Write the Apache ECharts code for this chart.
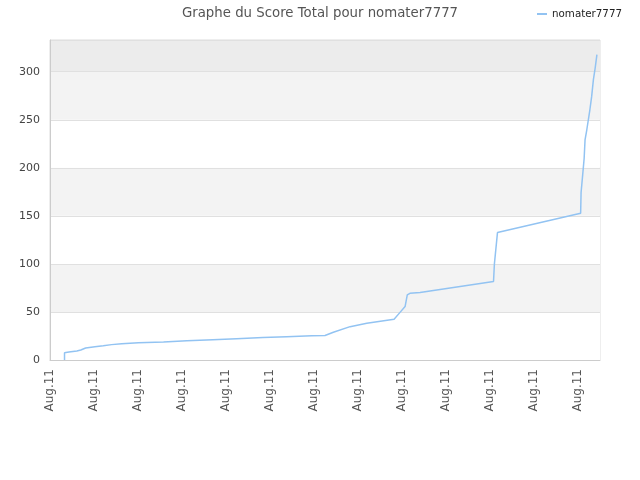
<!DOCTYPE html>
<html>
<head>
<meta charset="utf-8">
<script src="https://cdn.jsdelivr.net/npm/echarts@6/dist/echarts.min.js"></script>
<style>
html, body { margin: 0; padding: 0; background: #fff; }
#main { width: 640px; height: 480px; }
</style>
</head>
<body>
<div id="main"></div>
<script>
// position along the x axis (one "Aug.11" label every 10 steps)
var steps = [3.3, 3.3, 4.3, 6.1, 7.0, 7.2, 8.1, 10.2, 12.1, 14.0, 16.3, 20.1, 25.8, 31.1, 37.0, 42.4,
	48.4, 53.8, 59.5, 62.5, 64.4, 68.2, 72.0, 78.2, 79.5, 80.7, 81.2, 81.8, 84.1, 100.8, 101.0,
	101.7, 120.6, 120.7, 121.1, 121.4, 121.6, 122.0, 122.7, 123.1, 123.5, 123.9, 124.3];
// score total
var scores = [0, 7.6, 8.3, 9.4, 10.4, 11.8, 12.5, 13.9, 14.9, 16, 17, 18, 18.8, 20, 21.2, 22.2,
	23.3, 24.3, 25.3, 25.5, 28.8, 34.7, 38.2, 42.4, 49.3, 55.6, 67.7, 69.4, 70.2, 81.6, 100,
	132.6, 152.8, 174.3, 194.5, 210, 229, 239.6, 260.4, 274, 291.7, 303.8, 317.7];
var tickLabel = 'Aug.11';
var seriesName = 'nomater7777';

var points = [];
for (var i = 0; i < steps.length; i++) {
	points.push([steps[i], scores[i]]);
}

var myChart = echarts.init(document.getElementById('main'));
var option = {
	animation: false,
	title: {
		text: 'Graphe du Score Total pour nomater7777',
		left: 'center',
		top: 2,
		textStyle: { fontSize: 13.3, fontWeight: 'normal', color: '#555', fontFamily: 'DejaVu Sans' }
	},
	legend: {
		right: 13,
		top: 4,
		icon: 'rect',
		itemWidth: 10,
		itemHeight: 2,
		itemGap: 6,
		textStyle: { fontSize: 10.3, color: '#222', fontFamily: 'DejaVu Sans' },
		data: [seriesName]
	},
	grid: {
		left: 50,
		right: 40,
		top: 40,
		bottom: 120,
		show: true,
		borderColor: '#ddd',
		borderWidth: 1
	},
	xAxis: {
		type: 'value',
		min: 0,
		max: 125,
		interval: 10,
		axisLine: { show: true, lineStyle: { color: '#ccc' } },
		axisTick: { show: false },
		splitLine: { show: false },
		axisLabel: {
			rotate: 90,
			fontSize: 12,
			color: '#555',
			fontFamily: 'DejaVu Sans',
			margin: 9,
			formatter: function (v) { return v % 10 === 0 ? tickLabel : ''; }
		}
	},
	yAxis: {
		type: 'value',
		min: 0,
		max: 333,
		interval: 50,
		axisLine: { show: true, lineStyle: { color: '#ccc' } },
		axisTick: { show: false },
		axisLabel: {
			fontSize: 11,
			color: '#444',
			fontFamily: 'DejaVu Sans',
			margin: 10,
			formatter: function (v) { return v % 50 === 0 ? v : ''; }
		},
		splitLine: { show: true, lineStyle: { color: '#e0e0e0' } },
		splitArea: {
			show: true,
			areaStyle: { color: ['#ffffff', '#f3f3f3', '#ffffff', '#f3f3f3', '#ffffff', '#f3f3f3', '#ececec'] }
		}
	},
	series: [{
		name: seriesName,
		type: 'line',
		data: points,
		showSymbol: false,
		symbol: 'none',
		lineStyle: { color: '#92c3f2', width: 1.5 },
		itemStyle: { color: '#92c3f2' }
	}]
};
myChart.setOption(option);
</script>
</body>
</html>
